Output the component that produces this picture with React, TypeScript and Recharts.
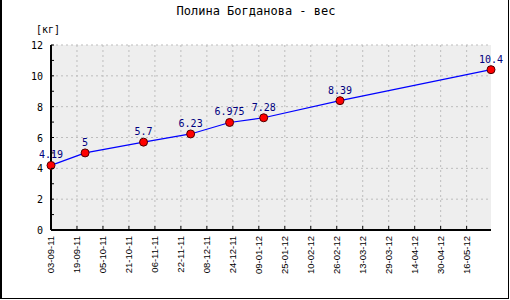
import { CartesianGrid, LabelList, Line, LineChart, XAxis, YAxis } from "recharts";

// days since 03-09-11 for each weighing
const weighDays = [0, 21, 57, 86, 110, 131, 178, 271];
const weights = [4.19, 5, 5.7, 6.23, 6.975, 7.28, 8.39, 10.4];

const tickDays = [0, 16, 32, 48, 64, 80, 96, 112, 128, 144, 160, 176, 192, 208, 224, 240, 256];
const tickLabels = [
  "03-09-11", "19-09-11", "05-10-11", "21-10-11", "06-11-11", "22-11-11", "08-12-11", "24-12-11",
  "09-01-12", "25-01-12", "10-02-12", "26-02-12", "13-03-12", "29-03-12", "14-04-12", "30-04-12", "16-05-12",
];
const yTicks = [0, 1, 2, 3, 4, 5, 6, 7, 8, 9, 10, 11, 12];
const yGrid = [0, 2, 4, 6, 8, 10, 12];

const data = weighDays.map((d, i) => ({ day: d, w: weights[i] }));

const mono = "'DejaVu Sans Mono', 'Liberation Mono', monospace";

function YTick({ x, y, payload }: any) {
  const v = payload.value as number;
  return (
    <g>
      <line x1={x} x2={x + 3} y1={y} y2={y} stroke="#000" />
      {v % 2 === 0 && (
        <text x={x - 8} y={y + 4} textAnchor="end" fontSize={10} fontFamily={mono} fill="#000">
          {v}
        </text>
      )}
    </g>
  );
}

function XTick({ x, y, payload }: any) {
  const idx = tickDays.indexOf(payload.value);
  const ty = y + 6;
  return (
    <g>
      <line x1={x} x2={x} y1={y} y2={y - 4} stroke="#000" />
      <text
        x={x}
        y={ty}
        dy="0.35em"
        transform={`rotate(-90, ${x}, ${ty})`}
        textAnchor="end"
        fontSize={9.5}
        fontFamily="'Liberation Sans', Arial, sans-serif"
        fill="#000"
      >
        {tickLabels[idx]}
      </text>
    </g>
  );
}

export default function App() {
  return (
    <div style={{ position: "absolute", left: 0, top: 0, width: 510, height: 300, background: "#fff" }}>
      <div
        style={{
          position: "absolute",
          left: 0,
          top: 0,
          width: 509,
          height: 299,
          boxSizing: "border-box",
          borderLeft: "2px solid #000",
          borderRight: "1px solid #000",
          borderBottom: "1px solid #000",
        }}
      />
      <div
        style={{
          position: "absolute",
          left: 0,
          top: 5,
          width: 512,
          textAlign: "center",
          fontFamily: mono,
          fontSize: 12,
          lineHeight: "12px",
          color: "#000",
        }}
      >
        Полина Богданова - вес
      </div>
      <div
        style={{
          position: "absolute",
          left: 36,
          top: 25,
          fontFamily: mono,
          fontSize: 10,
          lineHeight: "10px",
          color: "#000",
        }}
      >
        [кг]
      </div>
      <div style={{ position: "absolute", left: 0, top: 0 }}>
        <LineChart width={510} height={300} data={data} margin={{ top: 45, right: 19, bottom: 10, left: 0 }}>
          <CartesianGrid
            fill="#eeeeee"
            stroke="#bdbdbd"
            strokeDasharray="2 3"
            horizontalValues={yGrid}
            verticalValues={tickDays}
          />
          <XAxis
            dataKey="day"
            type="number"
            domain={[0, 271]}
            ticks={tickDays}
            interval={0}
            height={60}
            tickSize={0}
            tickMargin={0}
            tickLine={false}
            axisLine={{ stroke: "#000", strokeWidth: 2 }}
            tick={<XTick />}
          />
          <YAxis
            type="number"
            domain={[0, 12]}
            ticks={yTicks}
            interval={0}
            width={51}
            tickSize={0}
            tickMargin={0}
            tickLine={false}
            axisLine={{ stroke: "#000", strokeWidth: 2 }}
            tick={<YTick />}
          />
          <Line
            type="linear"
            dataKey="w"
            stroke="#0000ff"
            strokeWidth={1.2}
            dot={{ r: 4, fill: "#ff0000", stroke: "#500000", strokeWidth: 1 }}
            activeDot={false}
            isAnimationActive={false}
          >
            <LabelList dataKey="w" position="top" offset={7} fill="#000080" fontSize={10} fontFamily={mono} />
          </Line>
        </LineChart>
      </div>
    </div>
  );
}
